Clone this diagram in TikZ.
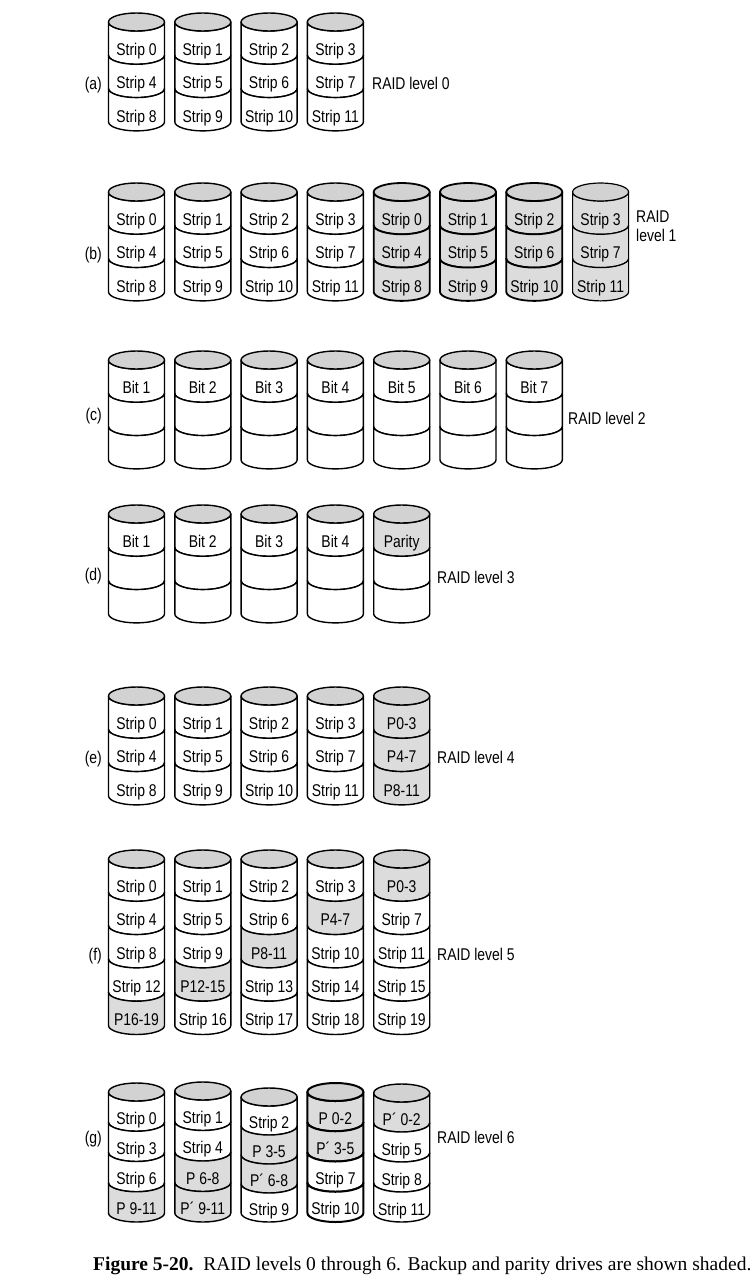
\documentclass[tikz,border=0pt]{standalone}
\usepackage{fontspec}
\setmainfont{Liberation Serif}
\newfontfamily\diskfont[FakeStretch=0.82]{Liberation Sans}
\usepackage{xcolor}
\definecolor{DiskCap}{HTML}{D2D2D2}
\definecolor{DiskShade}{HTML}{DCDCDC}
\tikzset{
    diskline/.style={draw=black, line width=1.4pt, line join=round},
    striplabel/.style={font=\diskfont\fontsize{17}{18.5}\selectfont, inner sep=0pt, anchor=base},
}
\newcommand{\raiddisk}[6][]{%
    \foreach \txt/\fillc [count=\k from 0] in {#6} {
        \draw[diskline, #1, fill=\fillc] (#3-28,{#4+\k*#5}) -- ++(0,#5)
            arc[start angle=180, end angle=0, x radius=28, y radius=9]
            -- ++(0,-#5)
            arc[start angle=0, end angle=180, x radius=28, y radius=9] -- cycle;
        \node[striplabel] (#2-\k) at (#3,{#4+(\k+0.5)*#5+17}) {\txt};
    }
    \draw[diskline, #1, fill=DiskCap] (#3,#4) ellipse[x radius=28, y radius=9];
}

\begin{document}
\begin{tikzpicture}[x=1pt, y=-1pt]
    \useasboundingbox (0,0) rectangle (755,1280);
    \foreach \i in {0,...,3} {
        \pgfmathsetmacro\dx{136.5+66.3*\i}
        \pgfmathtruncatemacro\ib{\i+4}
        \pgfmathtruncatemacro\ic{\i+8}
        \raiddisk{a\i}{\dx}{22}{33.3}{Strip \i/white, Strip \ib/white, Strip \ic/white}
    }
    \node[striplabel, anchor=base east] (lbl-a) at (102,89) {(a)};
    \node[striplabel, anchor=base west] (raid-a) at (372,89) {RAID level 0};

    \foreach \i in {0,...,7} {
        \pgfmathsetmacro\dx{136.5+66.3*\i}
        \pgfmathtruncatemacro\j{mod(\i,4)}
        \pgfmathtruncatemacro\jb{\j+4}
        \pgfmathtruncatemacro\jc{\j+8}
        \ifnum\i<4 \def\fc{white}\def\lw{1.4pt}\else\def\fc{DiskShade}\def\lw{1.8pt}\fi
        \ifnum\i=7 \def\lw{1.2pt}\fi
        \raiddisk[line width=\lw]{b\i}{\dx}{192}{33.3}{Strip \j/\fc, Strip \jb/\fc, Strip \jc/\fc}
    }
    \node[striplabel, anchor=base east] (lbl-b) at (102,259) {(b)};
    \node[striplabel, anchor=base west, align=left] (raid-b) at (636,241) {RAID\\level 1};

    \foreach \n in {1,...,7} {
        \pgfmathsetmacro\dx{136.5+66.3*(\n-1)}
        \raiddisk{c\n}{\dx}{360}{33.3}{Bit \n/white, /white, /white}
    }
    \node[striplabel, anchor=base east] (lbl-c) at (102,420) {(c)};
    \node[striplabel, anchor=base west] (raid-c) at (568,424) {RAID level 2};

    \foreach \n in {1,...,4} {
        \pgfmathsetmacro\dx{136.5+66.3*(\n-1)}
        \raiddisk{d\n}{\dx}{514}{33.3}{Bit \n/white, /white, /white}
    }
    \raiddisk{d5}{401.7}{514}{33.3}{Parity/DiskShade, /white, /white}
    \node[striplabel, anchor=base east] (lbl-d) at (102,580) {(d)};
    \node[striplabel, anchor=base west] (raid-d) at (437,583) {RAID level 3};

    \foreach \i in {0,...,3} {
        \pgfmathsetmacro\dx{136.5+66.3*\i}
        \pgfmathtruncatemacro\ib{\i+4}
        \pgfmathtruncatemacro\ic{\i+8}
        \raiddisk{e\i}{\dx}{696}{33.3}{Strip \i/white, Strip \ib/white, Strip \ic/white}
    }
    \raiddisk{e4}{401.7}{696}{33.3}{P0-3/DiskShade, P4-7/DiskShade, P8-11/DiskShade}
    \node[striplabel, anchor=base east] (lbl-e) at (102,763) {(e)};
    \node[striplabel, anchor=base west] (raid-e) at (437,763) {RAID level 4};

    \raiddisk{f0}{136.5}{859}{33.3}{Strip 0/white, Strip 4/white, Strip 8/white, Strip 12/white, P16-19/DiskShade}
    \raiddisk{f1}{202.8}{859}{33.3}{Strip 1/white, Strip 5/white, Strip 9/white, P12-15/DiskShade, Strip 16/white}
    \raiddisk{f2}{269.1}{859}{33.3}{Strip 2/white, Strip 6/white, P8-11/DiskShade, Strip 13/white, Strip 17/white}
    \raiddisk{f3}{335.4}{859}{33.3}{Strip 3/white, P4-7/DiskShade, Strip 10/white, Strip 14/white, Strip 18/white}
    \raiddisk{f4}{401.7}{859}{33.3}{P0-3/DiskShade, Strip 7/white, Strip 11/white, Strip 15/white, Strip 19/white}
    \node[striplabel, anchor=base east] (lbl-f) at (102,960) {(f)};
    \node[striplabel, anchor=base west] (raid-f) at (437,960) {RAID level 5};

    \raiddisk{g0}{136.5}{1092}{30.25}{Strip 0/white, Strip 3/white, Strip 6/white, P 9-11/DiskShade}
    \raiddisk{g1}{202.8}{1091}{30.5}{Strip 1/white, Strip 4/white, P 6-8/DiskShade, P´ 9-11/DiskShade}
    \raiddisk{g2}{269.1}{1097}{29}{Strip 2/white, P 3-5/DiskShade, P´ 6-8/DiskShade, Strip 9/white}
    \raiddisk[line width=2pt]{g3}{335.4}{1092}{30.25}{P 0-2/DiskShade, P´ 3-5/DiskShade, Strip 7/white, Strip 10/white}
    \raiddisk{g4}{401.7}{1093}{30}{P´ 0-2/DiskShade, Strip 5/white, Strip 8/white, Strip 11/white}
    \node[striplabel, anchor=base east] (lbl-g) at (102,1143) {(g)};
    \node[striplabel, anchor=base west] (raid-g) at (437,1143) {RAID level 6};

    \node[anchor=base west, inner sep=0pt, font=\fontsize{19.5}{22}\selectfont] (caption) at (93,1270)
        {\textbf{Figure 5-20.}\ \ RAID levels 0 through 6. Backup and parity drives are shown shaded.};
\end{tikzpicture}
\end{document}
